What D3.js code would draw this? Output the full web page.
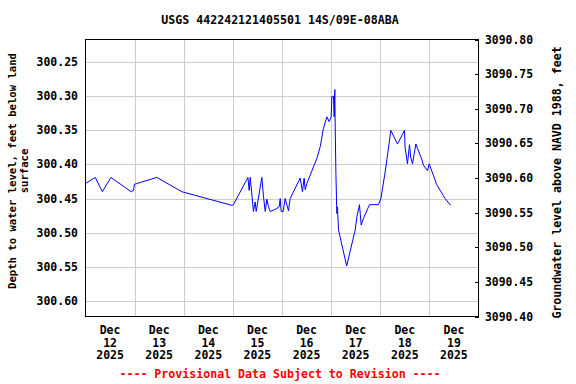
<html lang="en">
<head>
    <meta charset="UTF-8">
    <title>USGS 442242121405501</title>
    <script src="https://d3js.org/d3.v7.min.js"></script>
    <style>
        body { margin: 0; background: #fff; }
        text { font-family: "DejaVu Sans Mono", monospace; font-weight: bold; fill: #000; }
    </style>
</head>
<body>
    <div id="my_dataviz"></div>
    <script>
        // readings (local time) and depth below land surface, feet
        var times = [
            "2025-12-12 00:00", "2025-12-12 04:45", "2025-12-12 08:15", "2025-12-12 12:25", "2025-12-12 22:20",
            "2025-12-12 23:27", "2025-12-12 23:56", "2025-12-13 01:06", "2025-12-13 10:52", "2025-12-13 23:05",
            "2025-12-14 23:31", "2025-12-15 00:17", "2025-12-15 07:20", "2025-12-15 07:58", "2025-12-15 08:28",
            "2025-12-15 10:03", "2025-12-15 10:54", "2025-12-15 11:23", "2025-12-15 14:10", "2025-12-15 14:57",
            "2025-12-15 15:48", "2025-12-15 16:36", "2025-12-15 17:24", "2025-12-15 18:13", "2025-12-15 20:40",
            "2025-12-15 22:38", "2025-12-15 23:07", "2025-12-15 23:36", "2025-12-16 00:35", "2025-12-16 01:32",
            "2025-12-16 03:10", "2025-12-16 03:59", "2025-12-16 08:53", "2025-12-16 10:00", "2025-12-16 10:49",
            "2025-12-16 11:20", "2025-12-16 12:09", "2025-12-16 17:02", "2025-12-16 18:39", "2025-12-16 20:15",
            "2025-12-16 21:55", "2025-12-16 23:02", "2025-12-17 00:01", "2025-12-17 00:22", "2025-12-17 01:09",
            "2025-12-17 01:29", "2025-12-17 01:49", "2025-12-17 01:58", "2025-12-17 02:20", "2025-12-17 02:48",
            "2025-12-17 03:06", "2025-12-17 03:36", "2025-12-17 07:36", "2025-12-17 11:46", "2025-12-17 12:35",
            "2025-12-17 13:51", "2025-12-17 14:41", "2025-12-17 15:48", "2025-12-17 18:45", "2025-12-17 23:08",
            "2025-12-18 00:19", "2025-12-18 02:24", "2025-12-18 03:14", "2025-12-18 05:11", "2025-12-18 08:25",
            "2025-12-18 11:50", "2025-12-18 12:10", "2025-12-18 13:18", "2025-12-18 14:17", "2025-12-18 14:51",
            "2025-12-18 15:45", "2025-12-18 17:24", "2025-12-18 20:20", "2025-12-18 21:07", "2025-12-18 23:04",
            "2025-12-18 23:54", "2025-12-19 03:39", "2025-12-19 07:42", "2025-12-19 10:24"
        ];
        var depth = [
            300.428, 300.419, 300.440, 300.419, 300.440,
            300.438, 300.429, 300.428, 300.419, 300.440,
            300.460, 300.459, 300.419, 300.438, 300.419,
            300.469, 300.455, 300.469, 300.419, 300.447,
            300.469, 300.451, 300.462, 300.469, 300.466,
            300.462, 300.450, 300.469, 300.469, 300.450,
            300.468, 300.450, 300.420, 300.440, 300.420,
            300.437, 300.428, 300.391, 300.374, 300.347,
            300.330, 300.337, 300.330, 300.300, 300.300,
            300.330, 300.290, 300.339, 300.413, 300.472,
            300.462, 300.496, 300.549, 300.496, 300.477,
            300.459, 300.489, 300.479, 300.459, 300.459,
            300.450, 300.411, 300.393, 300.350, 300.370,
            300.350, 300.376, 300.399, 300.371, 300.389,
            300.399, 300.370, 300.393, 300.401, 300.409,
            300.399, 300.430, 300.450, 300.460
        ];
        var depthTicks = [300.25, 300.30, 300.35, 300.40, 300.45, 300.50, 300.55, 300.60];
        var elevTicks = [3090.40, 3090.45, 3090.50, 3090.55, 3090.60, 3090.65, 3090.70, 3090.75, 3090.80];
        var dayTicks = ["2025-12-12", "2025-12-13", "2025-12-14", "2025-12-15", "2025-12-16", "2025-12-17", "2025-12-18", "2025-12-19"];

        var parseTime = d3.timeParse("%Y-%m-%d %H:%M"),
            parseDay = d3.timeParse("%Y-%m-%d");

        var data = times.map(function(t, i) { return {date: parseTime(t), depth: depth[i]}; });

        // plot box
        var box = {left: 85.5, right: 478.5, top: 39.5, bottom: 316.5};

        var svg = d3.select("#my_dataviz")
            .append("svg")
                .attr("width", 576)
                .attr("height", 384);

        var x = d3.scaleTime()
            .domain([parseDay("2025-12-12"), parseDay("2025-12-20")])
            .range([box.left, box.right]);

        var y = d3.scaleLinear()
            .domain([300.2165, 300.6232])
            .range([box.top, box.bottom]);

        var y2 = d3.scaleLinear()
            .domain([3090.80, 3090.40])
            .range([box.top, box.bottom]);

        // grid
        var grid = svg.append("g")
            .attr("stroke", "#cccccc")
            .attr("stroke-width", 1)
            .attr("shape-rendering", "crispEdges");

        grid.selectAll(".h")
            .data(depthTicks)
            .enter()
            .append("line")
                .attr("x1", box.left).attr("x2", box.right)
                .attr("y1", function(d) { return Math.round(y(d)) + 0.5; })
                .attr("y2", function(d) { return Math.round(y(d)) + 0.5; });

        grid.selectAll(".v")
            .data(dayTicks.slice(1))
            .enter()
            .append("line")
                .attr("y1", box.top).attr("y2", box.bottom)
                .attr("x1", function(d) { return Math.round(x(parseDay(d))) + 0.5; })
                .attr("x2", function(d) { return Math.round(x(parseDay(d))) + 0.5; });

        // right axis ticks, pointing into the plot
        svg.append("g")
            .attr("stroke", "#000")
            .attr("shape-rendering", "crispEdges")
            .selectAll("line")
            .data(elevTicks)
            .enter()
            .append("line")
                .attr("x1", box.right - 4).attr("x2", box.right)
                .attr("y1", function(d) { return Math.round(y2(d)) + 0.5; })
                .attr("y2", function(d) { return Math.round(y2(d)) + 0.5; });

        // the series
        svg.append("path")
            .datum(data)
            .attr("fill", "none")
            .attr("stroke", "#0000ff")
            .attr("stroke-width", 1)
            .attr("d", d3.line()
                .x(function(d) { return x(d.date); })
                .y(function(d) { return y(d.depth); }));

        // frame
        svg.append("rect")
            .attr("x", box.left).attr("y", box.top)
            .attr("width", box.right - box.left).attr("height", box.bottom - box.top)
            .attr("fill", "none")
            .attr("stroke", "#000")
            .attr("shape-rendering", "crispEdges");

        // tick labels
        svg.append("g")
            .selectAll("text")
            .data(depthTicks)
            .enter()
            .append("text")
                .attr("x", 78)
                .attr("y", function(d) { return y(d); })
                .attr("text-anchor", "end")
                .attr("dominant-baseline", "central")
                .style("font-size", "11.5px")
                .text(function(d) { return d.toFixed(2); });

        svg.append("g")
            .selectAll("text")
            .data(elevTicks)
            .enter()
            .append("text")
                .attr("x", 485)
                .attr("y", function(d) { return y2(d); })
                .attr("dominant-baseline", "central")
                .style("font-size", "11.4px")
                .text(function(d) { return d.toFixed(2); });

        var fmtDay = d3.timeFormat("%d"), fmtYear = d3.timeFormat("%Y");
        var dayLabels = svg.append("g")
            .selectAll("text")
            .data(dayTicks)
            .enter()
            .append("text")
                .attr("text-anchor", "middle")
                .style("font-size", "11.5px")
                .attr("transform", function(d) { return "translate(" + x(d3.timeHour.offset(parseDay(d), 12)) + ",334)"; });
        dayLabels.append("tspan").attr("x", 0).attr("y", 0).text("Dec");
        dayLabels.append("tspan").attr("x", 0).attr("y", 12.5).text(function(d) { return fmtDay(parseDay(d)); });
        dayLabels.append("tspan").attr("x", 0).attr("y", 25).text(function(d) { return fmtYear(parseDay(d)); });

        // titles
        svg.append("text")
            .attr("x", 280).attr("y", 24)
            .attr("text-anchor", "middle")
            .style("font-size", "11.6px")
            .text("USGS 442242121405501 14S/09E-08ABA");

        svg.append("text")
            .attr("x", 280).attr("y", 378)
            .attr("text-anchor", "middle")
            .style("font-size", "11.6px")
            .style("fill", "#ff0000")
            .text("---- Provisional Data Subject to Revision ----");

        var ytitle = svg.append("text")
            .attr("transform", "translate(16,171) rotate(-90)")
            .attr("text-anchor", "middle")
            .style("font-size", "10.6px");
        ytitle.append("tspan").attr("x", 0).attr("y", 0).text("Depth to water level, feet below land");
        ytitle.append("tspan").attr("x", 0).attr("y", 12).text("surface");

        svg.append("text")
            .attr("transform", "translate(561,182.5) rotate(-90)")
            .attr("text-anchor", "middle")
            .style("font-size", "11.6px")
            .text("Groundwater level above NAVD 1988, feet");
    </script>
</body>
</html>
